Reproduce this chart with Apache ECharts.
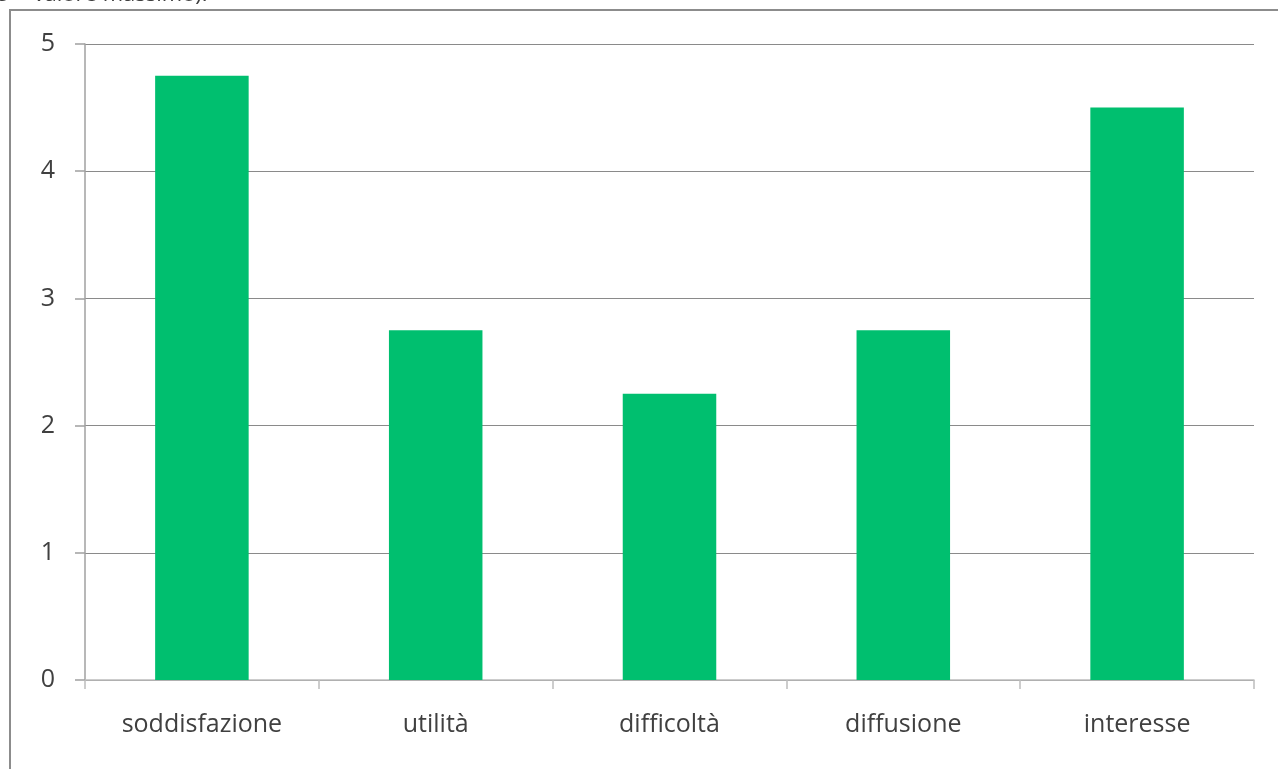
<!DOCTYPE html>
<html>
<head>
<meta charset="utf-8">
<script src="https://cdn.jsdelivr.net/npm/echarts@6/dist/echarts.min.js"></script>
<style>
  html, body { margin: 0; padding: 0; background: #fff; }
  #chart { width: 1278px; height: 769px; }
</style>
</head>
<body>
<div id="chart"></div>
<script>
// Mean scores per survey dimension (scale 1–5)
const categories = ['soddisfazione', 'utilità', 'difficoltà', 'diffusione', 'interesse'];
const scores = [4.75, 2.75, 2.25, 2.75, 4.5];
const yTicks = [0, 1, 2, 3, 4, 5];

const chart = echarts.init(document.getElementById('chart'), null, { renderer: 'canvas' });

const labelFont = { fontFamily: '"Open Sans", "Noto Sans", sans-serif', fontSize: 25, color: '#404040' };

chart.setOption({
  animation: false,
  backgroundColor: '#ffffff',
  grid: { left: 85, right: 24, top: 44, bottom: 89, containLabel: false },
  graphic: [
    {
      type: 'rect',
      shape: { x: 10, y: 10, width: 1320, height: 820 },
      style: { fill: 'none', stroke: '#8c8c8c', lineWidth: 2 },
      silent: true
    },
    {
      type: 'text',
      left: -3,
      top: -16,
      style: {
        text: '5 = valore massimo).',
        font: '22px "Open Sans", sans-serif',
        fill: '#404040'
      },
      silent: true
    }
  ],
  xAxis: {
    type: 'category',
    data: categories,
    boundaryGap: true,
    axisLine: { show: true, lineStyle: { color: '#bdbdbd', width: 1.5 } },
    axisTick: { show: true, length: 9, alignWithLabel: false, lineStyle: { color: '#bdbdbd', width: 1.5 } },
    axisLabel: Object.assign({ margin: 32 }, labelFont),
    splitLine: { show: false }
  },
  yAxis: {
    type: 'value',
    min: yTicks[0],
    max: yTicks[yTicks.length - 1],
    interval: 1,
    axisLine: { show: true, lineStyle: { color: '#a0a0a0', width: 1.5 } },
    axisTick: { show: true, length: 10, lineStyle: { color: '#a0a0a0', width: 1.5 } },
    axisLabel: Object.assign({ margin: 30 }, labelFont),
    splitLine: { show: true, lineStyle: { color: '#8a8a8a', width: 1.2 } }
  },
  series: [{
    type: 'bar',
    data: scores,
    barWidth: '40%',
    itemStyle: { color: '#00BF6F' }
  }]
});
</script>
</body>
</html>
